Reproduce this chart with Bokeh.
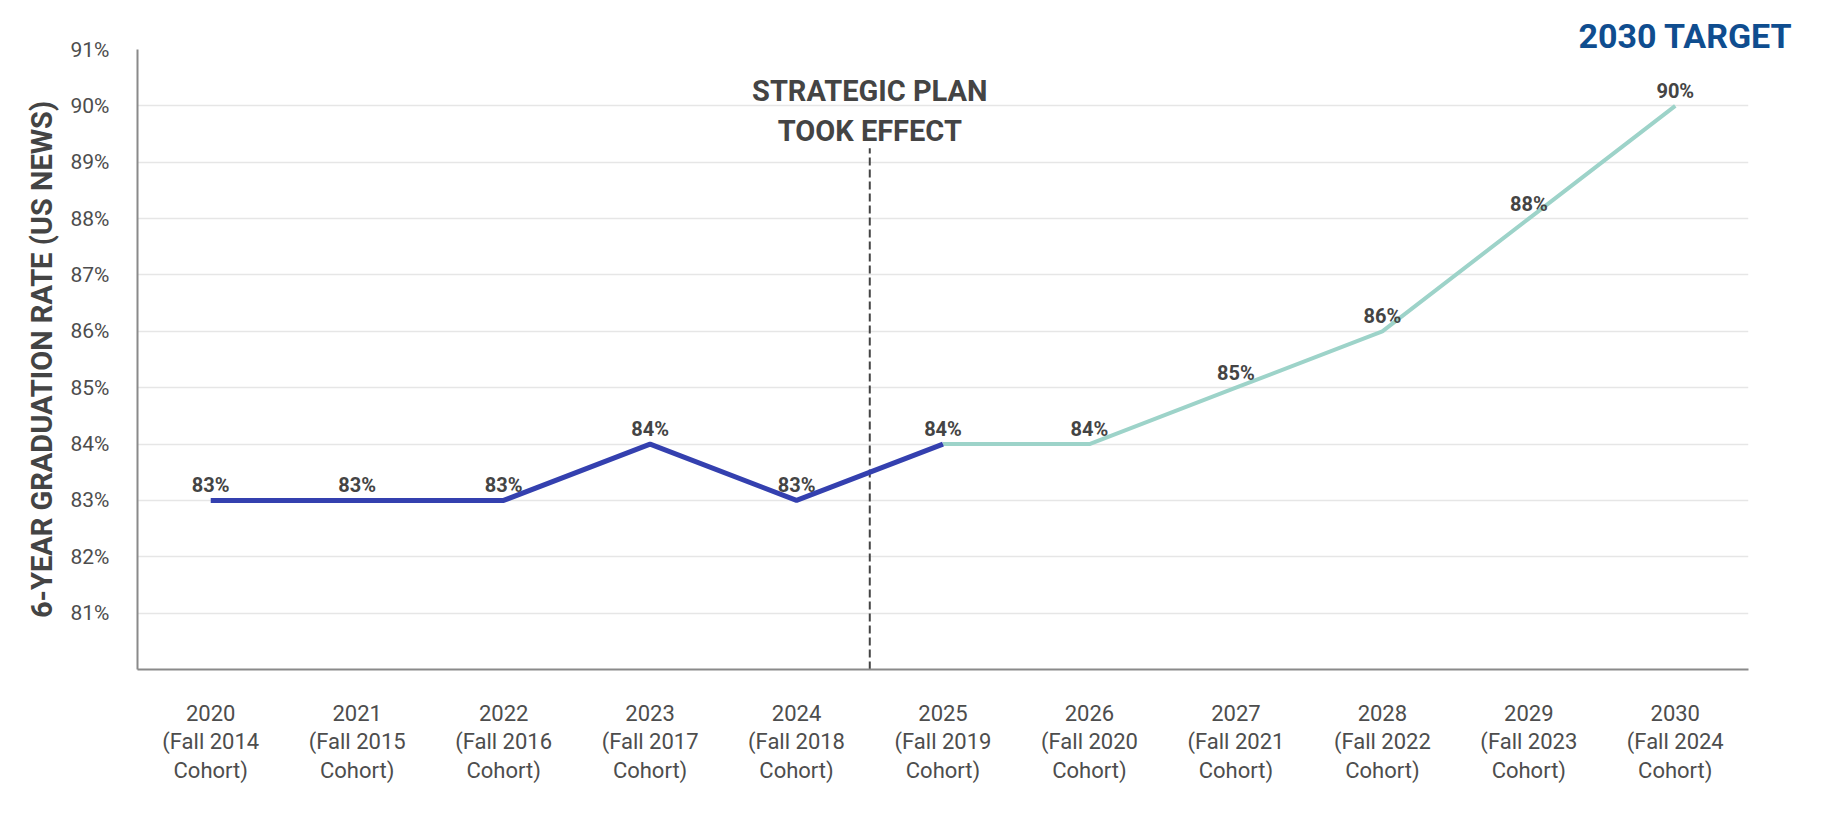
from bokeh.plotting import figure
from bokeh.models import FactorRange, Range1d, FixedTicker, ColumnDataSource, Label, CustomJSTickFormatter
from bokeh.core.properties import value
from bokeh.embed import file_html
from bokeh.resources import INLINE

# ---- data ----
years = ["2020", "2021", "2022", "2023", "2024", "2025", "2026", "2027", "2028", "2029", "2030"]
cohorts = ["Fall 2014", "Fall 2015", "Fall 2016", "Fall 2017", "Fall 2018", "Fall 2019",
           "Fall 2020", "Fall 2021", "Fall 2022", "Fall 2023", "Fall 2024"]
actual_years = ["2020", "2021", "2022", "2023", "2024", "2025"]
actual_rate = [83, 83, 83, 84, 83, 84]
target_years = ["2025", "2026", "2027", "2028", "2029", "2030"]
target_rate = [84, 84, 85, 86, 88, 90]
label_years = years
label_rate = [83, 83, 83, 84, 83, 84, 84, 85, 86, 88, 90]
y_ticks = [81, 82, 83, 84, 85, 86, 87, 88, 89, 90, 91]
plan_boundary = 5      # between 2024 and 2025 (category units)
plan_line_top = 89.25

FONT = "Roboto"
DARK = "#444444"

factors = [f"{y}\n({c}\nCohort)" for y, c in zip(years, cohorts)]
fmap = dict(zip(years, factors))

p = figure(width=1808, height=796, output_backend="svg", toolbar_location=None,
           x_range=FactorRange(*factors, range_padding=0), y_range=Range1d(80, 91),
           min_border_left=137, min_border_right=60, min_border_top=49, min_border_bottom=127,
           title="2030 TARGET")
p.outline_line_color = None
p.background_fill_color = "white"
p.border_fill_color = "white"

# title used as the "2030 TARGET" heading
p.title.align = "right"
p.title.text_font = FONT
p.title.text_font_style = "bold"
p.title.text_font_size = "34px"
p.title.text_color = "#0F4D8F"
p.title.offset = -44
p.title.standoff = -12

# grid
p.xgrid.grid_line_color = None
p.ygrid.grid_line_color = "#E6E6E6"
p.ygrid.grid_line_width = 1.5

# axes
p.yaxis.ticker = FixedTicker(ticks=y_ticks)
p.yaxis.formatter = CustomJSTickFormatter(code="return tick.toFixed(0) + '%';")
for ax in (p.xaxis[0], p.yaxis[0]):
    ax.axis_line_color = "#8A8A8A"
    ax.axis_line_width = 2
    ax.major_tick_line_color = None
    ax.minor_tick_line_color = None
    ax.major_label_text_font = FONT
    ax.major_label_text_color = "#4D4D4D"
p.yaxis.major_label_text_font_size = "21px"
p.yaxis.major_label_standoff = 22
p.xaxis.major_label_text_font_size = "22px"
p.xaxis.major_label_standoff = 25
p.xaxis.major_label_text_line_height = 1.15
p.yaxis.axis_label = "6-YEAR GRADUATION RATE (US NEWS)"
p.yaxis.axis_label_text_font = FONT
p.yaxis.axis_label_text_font_style = "bold"
p.yaxis.axis_label_text_font_size = "29px"
p.yaxis.axis_label_text_color = DARK
p.yaxis.axis_label_standoff = 9

# dashed plan line
p.segment(x0=[plan_boundary], y0=[80], x1=[plan_boundary], y1=[plan_line_top],
          line_color=DARK, line_width=2, line_dash="8 4")

# lines
p.line([fmap[y] for y in target_years], target_rate, line_color="#9DD3C9", line_width=4)
p.line([fmap[y] for y in actual_years], actual_rate, line_color="#3440AF", line_width=5)

# data labels
src = ColumnDataSource(dict(x=[fmap[y] for y in label_years], y=label_rate,
                            t=[f"{v}%" for v in label_rate]))
p.text(x="x", y="y", text="t", source=src, y_offset=-15, text_align="center",
       text_baseline="alphabetic", text_font=value(FONT), text_font_style="bold",
       text_font_size="20px", text_color=DARK)

# annotations
p.add_layout(Label(x=plan_boundary, y=90.27, text="STRATEGIC PLAN", text_align="center",
                   text_baseline="alphabetic", text_font=FONT, text_font_style="bold",
                   text_font_size="29px", text_color=DARK))
p.add_layout(Label(x=plan_boundary, y=89.56, text="TOOK EFFECT", text_align="center",
                   text_baseline="alphabetic", text_font=FONT, text_font_style="bold",
                   text_font_size="29px", text_color=DARK))

open("out.html", "w").write(file_html(p, INLINE))
